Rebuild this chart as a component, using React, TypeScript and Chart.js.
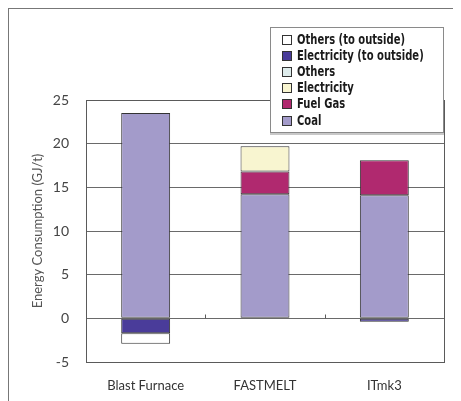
import { useEffect, useRef } from "react";
import { Chart, registerables } from "chart.js";

Chart.register(...registerables);

const categories = ["Blast Furnace", "FASTMELT", "ITmk3"];
const coal = [23.5, 14.2, 14.1];
const fuelGas = [0, 2.6, 4.0];
const electricity = [0, 2.9, 0];
const others = [0, 0, 0];
const electricityOut = [-1.7, 0, -0.4];
const othersOut = [-1.2, 0, 0];
const yMin = -5;
const yMax = 25;
const yStep = 5;
const yTitle = "Energy Consumption (GJ/t)";

const seriesNames = ["Coal", "Fuel Gas", "Electricity", "Others", "Electricity (to outside)", "Others (to outside)"];
const seriesColors = ["#a39bca", "#b0296f", "#f8f5d0", "#deecec", "#4a3c9a", "#ffffff"];
const seriesValues = [coal, fuelGas, electricity, others, electricityOut, othersOut];

const frameAndTicks = {
  id: "frameAndTicks",
  afterDatasetsDraw(chart: any) {
    const { ctx, chartArea } = chart;
    const x = chart.scales.x;
    const y = chart.scales.y;
    ctx.save();
    ctx.strokeStyle = "#5a5a5a";
    ctx.lineWidth = 1;
    ctx.strokeRect(Math.round(chartArea.left) + 0.5, Math.round(chartArea.top) + 0.5,
      Math.round(chartArea.right - chartArea.left), Math.round(chartArea.bottom - chartArea.top));
    const y0 = Math.round(y.getPixelForValue(0)) + 0.5;
    for (let i = 0; i < categories.length - 1; i++) {
      const bx = Math.round((x.getPixelForValue(i) + x.getPixelForValue(i + 1)) / 2) + 0.5;
      ctx.beginPath();
      ctx.moveTo(bx, y0);
      ctx.lineTo(bx, y0 - 4);
      ctx.stroke();
    }
    ctx.restore();
  },
};

const customLegend = {
  id: "customLegend",
  afterDraw(chart: any) {
    const { ctx } = chart;
    const bx = 261, by = 18, bw = 174, bh = 106;
    ctx.save();
    ctx.fillStyle = "#c8c8c8";
    ctx.fillRect(bx, by + bh, bw, 2);
    ctx.fillStyle = "#ffffff";
    ctx.fillRect(bx, by, bw, bh);
    ctx.strokeStyle = "#8a8a8a";
    ctx.lineWidth = 1;
    ctx.strokeRect(bx + 0.5, by + 0.5, bw - 1, bh - 1);
    const ds = chart.data.datasets.slice().reverse();
    ctx.font = "bold 14px 'DejaVu Sans'";
    ctx.textBaseline = "middle";
    const ref = ctx.measureText("Others (to outside)").width;
    const sx = 108 / ref;
    ds.forEach((d: any, i: number) => {
      const cy = by + 12.5 + i * 16.2;
      ctx.fillStyle = d.backgroundColor;
      ctx.fillRect(273, Math.round(cy - 5), 10, 10);
      ctx.strokeStyle = "#333";
      ctx.strokeRect(273.5, Math.round(cy - 5) + 0.5, 9, 9);
      ctx.save();
      ctx.translate(288, cy + 0.5);
      ctx.scale(sx, 1);
      ctx.fillStyle = "#1a1a1a";
      ctx.fillText(d.label, 0, 0);
      ctx.restore();
    });
    ctx.restore();
  },
};

export default function App() {
  const ref = useRef<HTMLCanvasElement>(null);
  useEffect(() => {
    if (!ref.current) return;
    const chart = new Chart(ref.current, {
      type: "bar",
      data: {
        labels: categories,
        datasets: seriesNames.map((name, i) => ({
          label: name,
          data: seriesValues[i],
          backgroundColor: seriesColors[i],
          borderColor: "#333333",
          borderWidth: 1,
          borderSkipped: false,
          categoryPercentage: 1,
          barPercentage: 0.41,
        })),
      },
      options: {
        responsive: false,
        animation: false,
        layout: { padding: { left: 0, top: 91, right: 17, bottom: 0 } },
        plugins: { legend: { display: false }, tooltip: { enabled: false } },
        scales: {
          x: {
            stacked: true,
            grid: { display: false },
            border: { display: false },
            ticks: { color: "#333", font: { family: "Lato", size: 13 }, padding: 8 },
            afterFit: (s: any) => { s.height = 39; },
          },
          y: {
            stacked: true,
            min: yMin,
            max: yMax,
            ticks: { stepSize: yStep, color: "#444", font: { family: "Lato", size: 14 }, padding: 17 },
            grid: { color: "#6a6a6a", drawTicks: false },
            border: { display: true, color: "#5a5a5a" },
            title: { display: true, text: yTitle, color: "#555", font: { family: "Lato", size: 13 }, padding: { top: 21, bottom: 0 } },
            afterFit: (s: any) => { s.width = 77; },
          },
        },
      },
      plugins: [frameAndTicks, customLegend],
    });
    return () => chart.destroy();
  }, []);
  return (
    <div style={{ position: "relative", width: 453, height: 393, borderLeft: "1px solid #777", borderTop: "1px solid #777", boxSizing: "border-box", background: "#fff" }}>
      <canvas ref={ref} width={452} height={392} style={{ display: "block", width: 452, height: 392 }} />
    </div>
  );
}
